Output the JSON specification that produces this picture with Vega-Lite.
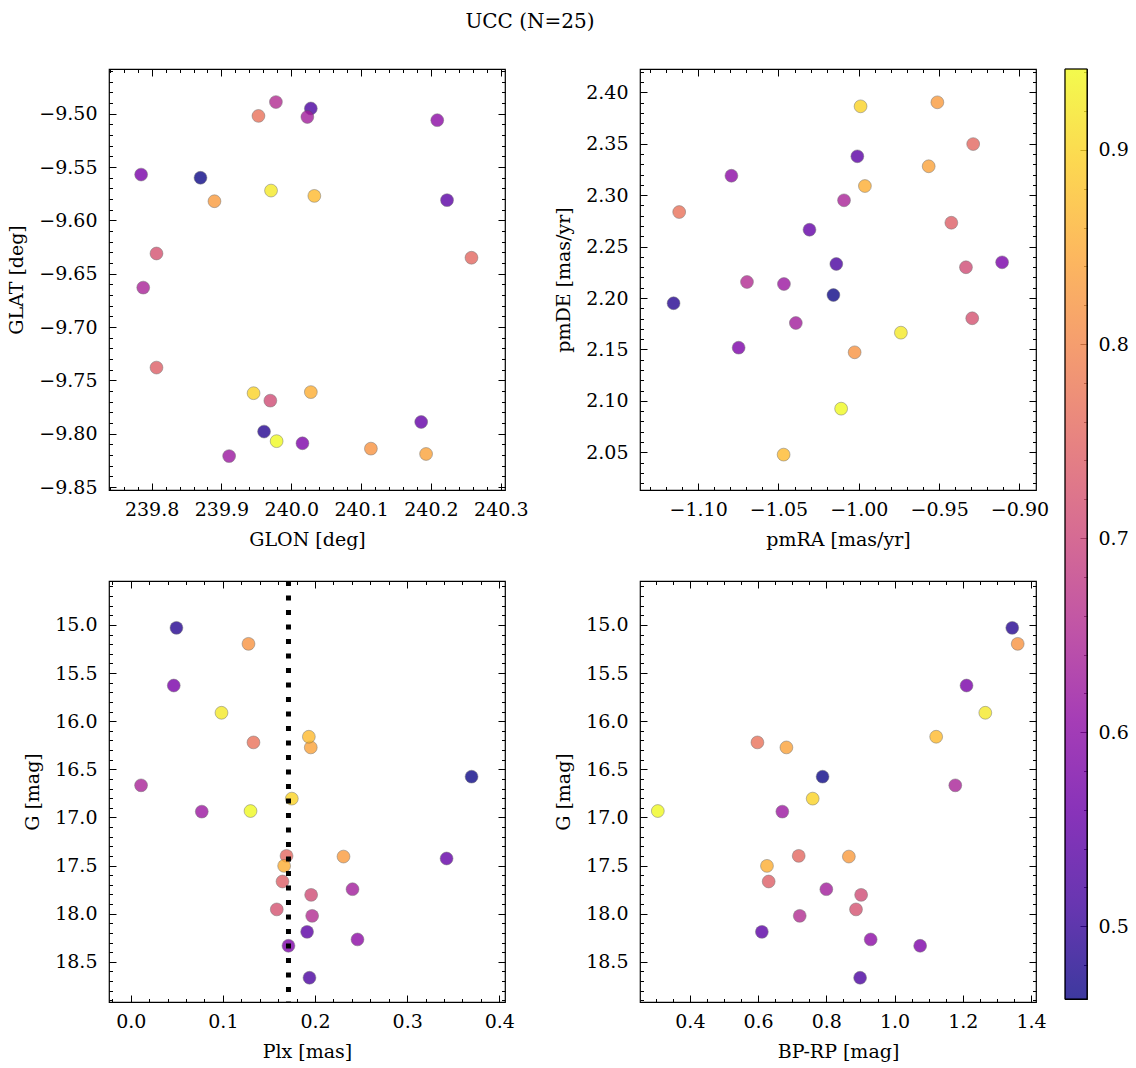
{
  "$schema": "https://vega.github.io/schema/vega-lite/v6.json",
  "padding": {"left": 7, "top": 11, "right": 5, "bottom": 5},
  "title": {"text": "UCC (N=25)", "fontSize": 20, "font": "DejaVu Serif", "fontWeight": "normal", "color": "black", "anchor": "middle", "offset": 36, "dx": -38},
  "data": {"values": [
    {"GLON": 239.870, "GLAT": -9.560, "pmRA": -1.0158, "pmDE": 2.2029, "Plx": 0.3699, "G": 16.577, "BPRP": 0.789, "prob": 0.4625},
    {"GLON": 239.961, "GLAT": -9.798, "pmRA": -1.1153, "pmDE": 2.1949, "Plx": 0.0496, "G": 15.031, "BPRP": 1.345, "prob": 0.48},
    {"GLON": 240.028, "GLAT": -9.495, "pmRA": -1.0140, "pmDE": 2.2331, "Plx": 0.1940, "G": 18.666, "BPRP": 0.899, "prob": 0.52},
    {"GLON": 240.223, "GLAT": -9.581, "pmRA": -1.0009, "pmDE": 2.3378, "Plx": 0.1914, "G": 18.189, "BPRP": 0.611, "prob": 0.54},
    {"GLON": 240.186, "GLAT": -9.789, "pmRA": -1.0307, "pmDE": 2.2664, "Plx": 0.3428, "G": 17.427, "BPRP": null, "prob": 0.55},
    {"GLON": 239.785, "GLAT": -9.557, "pmRA": -0.9108, "pmDE": 2.2347, "Plx": 0.0467, "G": 15.630, "BPRP": 1.211, "prob": 0.575},
    {"GLON": 240.016, "GLAT": -9.809, "pmRA": -1.0748, "pmDE": 2.1517, "Plx": 0.1712, "G": 18.334, "BPRP": 1.075, "prob": 0.58},
    {"GLON": 240.209, "GLAT": -9.506, "pmRA": -1.0793, "pmDE": 2.3189, "Plx": 0.2461, "G": 18.268, "BPRP": 0.930, "prob": 0.60},
    {"GLON": 239.911, "GLAT": -9.821, "pmRA": -1.0466, "pmDE": 2.2136, "Plx": 0.0771, "G": 16.940, "BPRP": 0.671, "prob": 0.62},
    {"GLON": 240.023, "GLAT": -9.503, "pmRA": -1.0392, "pmDE": 2.1757, "Plx": 0.2407, "G": 17.746, "BPRP": 0.800, "prob": 0.63},
    {"GLON": 239.788, "GLAT": -9.663, "pmRA": -1.0092, "pmDE": 2.2950, "Plx": 0.0112, "G": 16.667, "BPRP": 1.178, "prob": 0.64},
    {"GLON": 239.978, "GLAT": -9.489, "pmRA": -1.0696, "pmDE": 2.2156, "Plx": 0.1969, "G": 18.023, "BPRP": 0.722, "prob": 0.655},
    {"GLON": 239.970, "GLAT": -9.769, "pmRA": -0.9333, "pmDE": 2.2299, "Plx": 0.1958, "G": 17.805, "BPRP": 0.902, "prob": 0.71},
    {"GLON": 239.807, "GLAT": -9.631, "pmRA": -0.9294, "pmDE": 2.1803, "Plx": 0.1585, "G": 17.956, "BPRP": 0.887, "prob": 0.72},
    {"GLON": 239.807, "GLAT": -9.738, "pmRA": -0.9424, "pmDE": 2.2732, "Plx": 0.1647, "G": 17.666, "BPRP": 0.631, "prob": 0.74},
    {"GLON": 240.258, "GLAT": -9.635, "pmRA": -0.9288, "pmDE": 2.3497, "Plx": 0.1691, "G": 17.400, "BPRP": 0.719, "prob": 0.755},
    {"GLON": 239.953, "GLAT": -9.502, "pmRA": -1.1118, "pmDE": 2.2836, "Plx": 0.1332, "G": 16.221, "BPRP": 0.598, "prob": 0.77},
    {"GLON": 240.114, "GLAT": -9.814, "pmRA": -1.0026, "pmDE": 2.1472, "Plx": 0.1278, "G": 15.197, "BPRP": 1.361, "prob": 0.82},
    {"GLON": 239.890, "GLAT": -9.582, "pmRA": -0.9511, "pmDE": 2.3903, "Plx": 0.2309, "G": 17.407, "BPRP": 0.866, "prob": 0.83},
    {"GLON": 240.193, "GLAT": -9.819, "pmRA": -0.9565, "pmDE": 2.3281, "Plx": 0.1954, "G": 16.273, "BPRP": 0.683, "prob": 0.84},
    {"GLON": 240.028, "GLAT": -9.761, "pmRA": -0.9962, "pmDE": 2.3089, "Plx": 0.1665, "G": 17.504, "BPRP": 0.626, "prob": 0.855},
    {"GLON": 240.033, "GLAT": -9.577, "pmRA": -1.0468, "pmDE": 2.0477, "Plx": 0.1933, "G": 16.162, "BPRP": 1.122, "prob": 0.87},
    {"GLON": 239.946, "GLAT": -9.762, "pmRA": -0.9989, "pmDE": 2.3864, "Plx": 0.1748, "G": 16.805, "BPRP": 0.760, "prob": 0.90},
    {"GLON": 239.971, "GLAT": -9.572, "pmRA": -0.9738, "pmDE": 2.1663, "Plx": 0.0985, "G": 15.913, "BPRP": 1.266, "prob": 0.925},
    {"GLON": 239.979, "GLAT": -9.807, "pmRA": -1.0110, "pmDE": 2.0924, "Plx": 0.1300, "G": 16.934, "BPRP": 0.306, "prob": 0.9417}
  ]},
  "spacing": 13,
  "hconcat": [
    {
      "spacing": 27,
      "vconcat": [
        {
          "spacing": 135,
          "bounds": "flush",
          "hconcat": [
            {
              "width": 396, "height": 421,
              "resolve": {"axis": {"x": "independent", "y": "independent"}},
              "layer": [
                {
                  "mark": {"type": "circle", "size": 165, "opacity": 0.8, "stroke": "#555555", "strokeWidth": 0.5},
                  "encoding": {
                    "x": {"field": "GLON", "type": "quantitative", "scale": {"domain": [239.739, 240.306], "nice": false, "zero": false},
                      "axis": {"orient": "bottom", "title": "GLON [deg]", "format": ".1f", "values": [239.8, 239.9, 240.0, 240.1, 240.2, 240.3], "ticks": false, "labelPadding": 10, "titlePadding": 11}},
                    "y": {"field": "GLAT", "type": "quantitative", "scale": {"domain": [-9.8528, -9.458], "nice": false, "zero": false},
                      "axis": {"orient": "left", "title": "GLAT [deg]", "format": ".2f", "values": [-9.85, -9.8, -9.75, -9.7, -9.65, -9.6, -9.55, -9.5], "ticks": false, "labelPadding": 12, "titlePadding": 12}},
                    "color": {"field": "prob", "type": "quantitative", "scale": {"scheme": "plasma", "domain": [0.4625, 0.9417]}, "legend": null}
                  }
                },
                {
                  "mark": {"type": "point", "opacity": 0},
                  "encoding": {
                    "x": {"field": "GLON", "type": "quantitative", "axis": {"orient": "bottom", "labels": false, "title": null, "tickSize": -7, "values": [239.8, 239.9, 240.0, 240.1, 240.2, 240.3]}},
                    "y": {"field": "GLAT", "type": "quantitative", "axis": {"orient": "left", "labels": false, "title": null, "tickSize": -7, "values": [-9.85, -9.8, -9.75, -9.7, -9.65, -9.6, -9.55, -9.5]}}
                  }
                },
                {
                  "mark": {"type": "point", "opacity": 0},
                  "encoding": {
                    "x": {"field": "GLON", "type": "quantitative", "axis": {"orient": "top", "labels": false, "title": null, "tickSize": -7, "values": [239.8, 239.9, 240.0, 240.1, 240.2, 240.3]}},
                    "y": {"field": "GLAT", "type": "quantitative", "axis": {"orient": "right", "labels": false, "title": null, "tickSize": -7, "values": [-9.85, -9.8, -9.75, -9.7, -9.65, -9.6, -9.55, -9.5]}}
                  }
                },
                {
                  "mark": {"type": "point", "opacity": 0},
                  "encoding": {
                    "x": {"field": "GLON", "type": "quantitative", "axis": {"orient": "bottom", "labels": false, "title": null, "tickSize": -3.5, "values": [239.74,239.76,239.78,239.82,239.84,239.86,239.88,239.92,239.94,239.96,239.98,240.02,240.04,240.06,240.08,240.12,240.14,240.16,240.18,240.22,240.24,240.26,240.28]}},
                    "y": {"field": "GLAT", "type": "quantitative", "axis": {"orient": "left", "labels": false, "title": null, "tickSize": -3.5, "values": [-9.84,-9.83,-9.82,-9.81,-9.79,-9.78,-9.77,-9.76,-9.74,-9.73,-9.72,-9.71,-9.69,-9.68,-9.67,-9.66,-9.64,-9.63,-9.62,-9.61,-9.59,-9.58,-9.57,-9.56,-9.54,-9.53,-9.52,-9.51,-9.49,-9.48,-9.47,-9.46]}}
                  }
                },
                {
                  "mark": {"type": "point", "opacity": 0},
                  "encoding": {
                    "x": {"field": "GLON", "type": "quantitative", "axis": {"orient": "top", "labels": false, "title": null, "tickSize": -3.5, "values": [239.74,239.76,239.78,239.82,239.84,239.86,239.88,239.92,239.94,239.96,239.98,240.02,240.04,240.06,240.08,240.12,240.14,240.16,240.18,240.22,240.24,240.26,240.28]}},
                    "y": {"field": "GLAT", "type": "quantitative", "axis": {"orient": "right", "labels": false, "title": null, "tickSize": -3.5, "values": [-9.84,-9.83,-9.82,-9.81,-9.79,-9.78,-9.77,-9.76,-9.74,-9.73,-9.72,-9.71,-9.69,-9.68,-9.67,-9.66,-9.64,-9.63,-9.62,-9.61,-9.59,-9.58,-9.57,-9.56,-9.54,-9.53,-9.52,-9.51,-9.49,-9.48,-9.47,-9.46]}}
                  }
                }
              ]
            },
            {
              "width": 396, "height": 421,
              "resolve": {"axis": {"x": "independent", "y": "independent"}},
              "layer": [
                {
                  "mark": {"type": "circle", "size": 165, "opacity": 0.8, "stroke": "#555555", "strokeWidth": 0.5},
                  "encoding": {
                    "x": {"field": "pmRA", "type": "quantitative", "scale": {"domain": [-1.1362, -0.8897], "nice": false, "zero": false},
                      "axis": {"orient": "bottom", "title": "pmRA [mas/yr]", "format": ".2f", "values": [-1.1, -1.05, -1.0, -0.95, -0.9], "ticks": false, "labelPadding": 10, "titlePadding": 11}},
                    "y": {"field": "pmDE", "type": "quantitative", "scale": {"domain": [2.0133, 2.4227], "nice": false, "zero": false},
                      "axis": {"orient": "left", "title": "pmDE [mas/yr]", "format": ".2f", "values": [2.05, 2.1, 2.15, 2.2, 2.25, 2.3, 2.35, 2.4], "ticks": false, "labelPadding": 12, "titlePadding": 12}},
                    "color": {"field": "prob", "type": "quantitative", "scale": {"scheme": "plasma", "domain": [0.4625, 0.9417]}, "legend": null}
                  }
                },
                {
                  "mark": {"type": "point", "opacity": 0},
                  "encoding": {
                    "x": {"field": "pmRA", "type": "quantitative", "axis": {"orient": "bottom", "labels": false, "title": null, "tickSize": -7, "values": [-1.1, -1.05, -1.0, -0.95, -0.9]}},
                    "y": {"field": "pmDE", "type": "quantitative", "axis": {"orient": "left", "labels": false, "title": null, "tickSize": -7, "values": [2.05, 2.1, 2.15, 2.2, 2.25, 2.3, 2.35, 2.4]}}
                  }
                },
                {
                  "mark": {"type": "point", "opacity": 0},
                  "encoding": {
                    "x": {"field": "pmRA", "type": "quantitative", "axis": {"orient": "top", "labels": false, "title": null, "tickSize": -7, "values": [-1.1, -1.05, -1.0, -0.95, -0.9]}},
                    "y": {"field": "pmDE", "type": "quantitative", "axis": {"orient": "right", "labels": false, "title": null, "tickSize": -7, "values": [2.05, 2.1, 2.15, 2.2, 2.25, 2.3, 2.35, 2.4]}}
                  }
                },
                {
                  "mark": {"type": "point", "opacity": 0},
                  "encoding": {
                    "x": {"field": "pmRA", "type": "quantitative", "axis": {"orient": "bottom", "labels": false, "title": null, "tickSize": -3.5, "values": [-1.13,-1.12,-1.11,-1.09,-1.08,-1.07,-1.06,-1.04,-1.03,-1.02,-1.01,-0.99,-0.98,-0.97,-0.96,-0.94,-0.93,-0.92,-0.91]}},
                    "y": {"field": "pmDE", "type": "quantitative", "axis": {"orient": "left", "labels": false, "title": null, "tickSize": -3.5, "values": [2.02,2.03,2.04,2.06,2.07,2.08,2.09,2.11,2.12,2.13,2.14,2.16,2.17,2.18,2.19,2.21,2.22,2.23,2.24,2.26,2.27,2.28,2.29,2.31,2.32,2.33,2.34,2.36,2.37,2.38,2.39,2.41,2.42]}}
                  }
                },
                {
                  "mark": {"type": "point", "opacity": 0},
                  "encoding": {
                    "x": {"field": "pmRA", "type": "quantitative", "axis": {"orient": "top", "labels": false, "title": null, "tickSize": -3.5, "values": [-1.13,-1.12,-1.11,-1.09,-1.08,-1.07,-1.06,-1.04,-1.03,-1.02,-1.01,-0.99,-0.98,-0.97,-0.96,-0.94,-0.93,-0.92,-0.91]}},
                    "y": {"field": "pmDE", "type": "quantitative", "axis": {"orient": "right", "labels": false, "title": null, "tickSize": -3.5, "values": [2.02,2.03,2.04,2.06,2.07,2.08,2.09,2.11,2.12,2.13,2.14,2.16,2.17,2.18,2.19,2.21,2.22,2.23,2.24,2.26,2.27,2.28,2.29,2.31,2.32,2.33,2.34,2.36,2.37,2.38,2.39,2.41,2.42]}}
                  }
                }
              ]
            }
          ]
        },
        {
          "spacing": 135,
          "bounds": "flush",
          "hconcat": [
            {
              "width": 396, "height": 421,
              "resolve": {"axis": {"x": "independent", "y": "independent"}},
              "layer": [
                {
                  "mark": {"type": "circle", "size": 165, "opacity": 0.8, "stroke": "#555555", "strokeWidth": 0.5},
                  "encoding": {
                    "x": {"field": "Plx", "type": "quantitative", "scale": {"domain": [-0.0236, 0.4062], "nice": false, "zero": false},
                      "axis": {"orient": "bottom", "title": "Plx [mas]", "format": ".1f", "values": [0, 0.1, 0.2, 0.3, 0.4], "ticks": false, "labelPadding": 10, "titlePadding": 11}},
                    "y": {"field": "G", "type": "quantitative", "scale": {"domain": [14.544, 18.918], "reverse": true, "nice": false, "zero": false},
                      "axis": {"orient": "left", "title": "G [mag]", "format": ".1f", "values": [15, 15.5, 16, 16.5, 17, 17.5, 18, 18.5], "ticks": false, "labelPadding": 12, "titlePadding": 12}},
                    "color": {"field": "prob", "type": "quantitative", "scale": {"scheme": "plasma", "domain": [0.4625, 0.9417]}, "legend": null}
                  }
                },
                {
                  "mark": {"type": "rule", "color": "black", "strokeWidth": 5, "strokeDash": [5, 9.5]},
                  "encoding": {
                    "x": {"aggregate": "median", "field": "Plx", "type": "quantitative", "axis": null}
                  }
                },
                {
                  "mark": {"type": "point", "opacity": 0},
                  "encoding": {
                    "x": {"field": "Plx", "type": "quantitative", "axis": {"orient": "bottom", "labels": false, "title": null, "tickSize": -7, "values": [0, 0.1, 0.2, 0.3, 0.4]}},
                    "y": {"field": "G", "type": "quantitative", "axis": {"orient": "left", "labels": false, "title": null, "tickSize": -7, "values": [15, 15.5, 16, 16.5, 17, 17.5, 18, 18.5]}}
                  }
                },
                {
                  "mark": {"type": "point", "opacity": 0},
                  "encoding": {
                    "x": {"field": "Plx", "type": "quantitative", "axis": {"orient": "top", "labels": false, "title": null, "tickSize": -7, "values": [0, 0.1, 0.2, 0.3, 0.4]}},
                    "y": {"field": "G", "type": "quantitative", "axis": {"orient": "right", "labels": false, "title": null, "tickSize": -7, "values": [15, 15.5, 16, 16.5, 17, 17.5, 18, 18.5]}}
                  }
                },
                {
                  "mark": {"type": "point", "opacity": 0},
                  "encoding": {
                    "x": {"field": "Plx", "type": "quantitative", "axis": {"orient": "bottom", "labels": false, "title": null, "tickSize": -3.5, "values": [-0.02,0.02,0.04,0.06,0.08,0.12,0.14,0.16,0.18,0.22,0.24,0.26,0.28,0.32,0.34,0.36,0.38]}},
                    "y": {"field": "G", "type": "quantitative", "axis": {"orient": "left", "labels": false, "title": null, "tickSize": -3.5, "values": [14.6,14.7,14.8,14.9,15.1,15.2,15.3,15.4,15.6,15.7,15.8,15.9,16.1,16.2,16.3,16.4,16.6,16.7,16.8,16.9,17.1,17.2,17.3,17.4,17.6,17.7,17.8,17.9,18.1,18.2,18.3,18.4,18.6,18.7,18.8,18.9]}}
                  }
                },
                {
                  "mark": {"type": "point", "opacity": 0},
                  "encoding": {
                    "x": {"field": "Plx", "type": "quantitative", "axis": {"orient": "top", "labels": false, "title": null, "tickSize": -3.5, "values": [-0.02,0.02,0.04,0.06,0.08,0.12,0.14,0.16,0.18,0.22,0.24,0.26,0.28,0.32,0.34,0.36,0.38]}},
                    "y": {"field": "G", "type": "quantitative", "axis": {"orient": "right", "labels": false, "title": null, "tickSize": -3.5, "values": [14.6,14.7,14.8,14.9,15.1,15.2,15.3,15.4,15.6,15.7,15.8,15.9,16.1,16.2,16.3,16.4,16.6,16.7,16.8,16.9,17.1,17.2,17.3,17.4,17.6,17.7,17.8,17.9,18.1,18.2,18.3,18.4,18.6,18.7,18.8,18.9]}}
                  }
                }
              ]
            },
            {
              "width": 396, "height": 421,
              "resolve": {"axis": {"x": "independent", "y": "independent"}},
              "layer": [
                {
                  "mark": {"type": "circle", "size": 165, "opacity": 0.8, "stroke": "#555555", "strokeWidth": 0.5},
                  "encoding": {
                    "x": {"field": "BPRP", "type": "quantitative", "scale": {"domain": [0.2538, 1.4146], "nice": false, "zero": false},
                      "axis": {"orient": "bottom", "title": "BP-RP [mag]", "format": ".1f", "values": [0.4, 0.6, 0.8, 1.0, 1.2, 1.4], "ticks": false, "labelPadding": 10, "titlePadding": 11}},
                    "y": {"field": "G", "type": "quantitative", "scale": {"domain": [14.544, 18.918], "reverse": true, "nice": false, "zero": false},
                      "axis": {"orient": "left", "title": "G [mag]", "format": ".1f", "values": [15, 15.5, 16, 16.5, 17, 17.5, 18, 18.5], "ticks": false, "labelPadding": 12, "titlePadding": 12}},
                    "color": {"field": "prob", "type": "quantitative", "scale": {"scheme": "plasma", "domain": [0.4625, 0.9417]}, "legend": null}
                  }
                },
                {
                  "mark": {"type": "point", "opacity": 0},
                  "encoding": {
                    "x": {"field": "BPRP", "type": "quantitative", "axis": {"orient": "bottom", "labels": false, "title": null, "tickSize": -7, "values": [0.4, 0.6, 0.8, 1.0, 1.2, 1.4]}},
                    "y": {"field": "G", "type": "quantitative", "axis": {"orient": "left", "labels": false, "title": null, "tickSize": -7, "values": [15, 15.5, 16, 16.5, 17, 17.5, 18, 18.5]}}
                  }
                },
                {
                  "mark": {"type": "point", "opacity": 0},
                  "encoding": {
                    "x": {"field": "BPRP", "type": "quantitative", "axis": {"orient": "top", "labels": false, "title": null, "tickSize": -7, "values": [0.4, 0.6, 0.8, 1.0, 1.2, 1.4]}},
                    "y": {"field": "G", "type": "quantitative", "axis": {"orient": "right", "labels": false, "title": null, "tickSize": -7, "values": [15, 15.5, 16, 16.5, 17, 17.5, 18, 18.5]}}
                  }
                },
                {
                  "mark": {"type": "point", "opacity": 0},
                  "encoding": {
                    "x": {"field": "BPRP", "type": "quantitative", "axis": {"orient": "bottom", "labels": false, "title": null, "tickSize": -3.5, "values": [0.3,0.35,0.45,0.5,0.55,0.65,0.7,0.75,0.85,0.9,0.95,1.05,1.1,1.15,1.25,1.3,1.35]}},
                    "y": {"field": "G", "type": "quantitative", "axis": {"orient": "left", "labels": false, "title": null, "tickSize": -3.5, "values": [14.6,14.7,14.8,14.9,15.1,15.2,15.3,15.4,15.6,15.7,15.8,15.9,16.1,16.2,16.3,16.4,16.6,16.7,16.8,16.9,17.1,17.2,17.3,17.4,17.6,17.7,17.8,17.9,18.1,18.2,18.3,18.4,18.6,18.7,18.8,18.9]}}
                  }
                },
                {
                  "mark": {"type": "point", "opacity": 0},
                  "encoding": {
                    "x": {"field": "BPRP", "type": "quantitative", "axis": {"orient": "top", "labels": false, "title": null, "tickSize": -3.5, "values": [0.3,0.35,0.45,0.5,0.55,0.65,0.7,0.75,0.85,0.9,0.95,1.05,1.1,1.15,1.25,1.3,1.35]}},
                    "y": {"field": "G", "type": "quantitative", "axis": {"orient": "right", "labels": false, "title": null, "tickSize": -3.5, "values": [14.6,14.7,14.8,14.9,15.1,15.2,15.3,15.4,15.6,15.7,15.8,15.9,16.1,16.2,16.3,16.4,16.6,16.7,16.8,16.9,17.1,17.2,17.3,17.4,17.6,17.7,17.8,17.9,18.1,18.2,18.3,18.4,18.6,18.7,18.8,18.9]}}
                  }
                }
              ]
            }
          ]
        }
      ]
    },
    {
      "width": 22, "height": 930,
      "resolve": {"axis": {"y": "independent"}},
      "layer": [
        {
          "mark": {"type": "rect", "fillOpacity": 0.8, "stroke": "black", "strokeWidth": 1,
            "fill": {"gradient": "linear", "x1": 0, "y1": 1, "x2": 0, "y2": 0, "stops": [
              {"offset": 0.0, "color": "#0d0887"}, {"offset": 0.1, "color": "#41049d"}, {"offset": 0.2, "color": "#6a00a8"},
              {"offset": 0.3, "color": "#8f0da4"}, {"offset": 0.4, "color": "#b12a90"}, {"offset": 0.5, "color": "#cc4778"},
              {"offset": 0.6, "color": "#e16462"}, {"offset": 0.7, "color": "#f2844b"}, {"offset": 0.8, "color": "#fca636"},
              {"offset": 0.9, "color": "#fcce25"}, {"offset": 1.0, "color": "#f0f921"}]}},
          "encoding": {
            "x": {"datum": 0, "type": "quantitative", "scale": {"domain": [0, 1], "nice": false, "zero": false}, "axis": null},
            "x2": {"datum": 1},
            "y": {"aggregate": "min", "field": "prob", "type": "quantitative", "scale": {"domain": [0.4625, 0.9417], "nice": false, "zero": false},
              "axis": {"orient": "right", "title": null, "format": ".1f", "values": [0.5, 0.6, 0.7, 0.8, 0.9], "ticks": false, "labelPadding": 11}},
            "y2": {"aggregate": "max", "field": "prob"}
          }
        },
        {
          "mark": {"type": "rect", "opacity": 0},
          "encoding": {
            "x": {"datum": 0, "type": "quantitative", "axis": null},
            "x2": {"datum": 1},
            "y": {"aggregate": "min", "field": "prob", "type": "quantitative", "axis": {"orient": "right", "title": null, "labels": false, "tickSize": -7, "values": [0.5, 0.6, 0.7, 0.8, 0.9]}},
            "y2": {"aggregate": "max", "field": "prob"}
          }
        },
        {
          "mark": {"type": "rect", "opacity": 0},
          "encoding": {
            "x": {"datum": 0, "type": "quantitative", "axis": null},
            "x2": {"datum": 1},
            "y": {"aggregate": "min", "field": "prob", "type": "quantitative", "axis": {"orient": "right", "title": null, "labels": false, "tickSize": -3.5, "values": [0.48,0.52,0.54,0.56,0.58,0.62,0.64,0.66,0.68,0.72,0.74,0.76,0.78,0.82,0.84,0.86,0.88,0.92,0.94]}},
            "y2": {"aggregate": "max", "field": "prob"}
          }
        }
      ]
    }
  ],
  "config": {
    "font": "DejaVu Serif",
    "view": {"stroke": "black", "strokeWidth": 1.2},
    "axis": {
      "labelFont": "DejaVu Serif", "titleFont": "DejaVu Serif",
      "labelFontSize": 19, "titleFontSize": 19, "titleFontWeight": "normal",
      "labelColor": "black", "titleColor": "black", "tickColor": "black", "tickWidth": 1,
      "grid": false, "domain": false, "labelFlush": false, "labelOverlap": false, "labelBound": false
    }
  }
}
